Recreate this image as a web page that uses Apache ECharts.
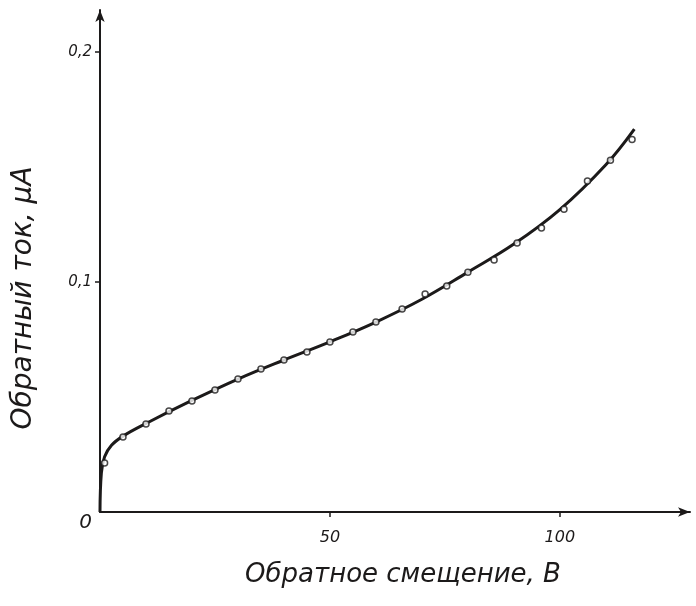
<!DOCTYPE html>
<html><head><meta charset="utf-8">
<script src="https://cdn.jsdelivr.net/npm/echarts@6/dist/echarts.min.js"></script>
<style>html,body{margin:0;padding:0;background:#fff}#c{width:696px;height:606px}</style>
</head><body><div id="c"></div>
<script>
// Measured points (open circles)
const pointX = [1, 5, 10, 15, 20, 25, 30, 35, 40, 45, 50, 55, 60, 65.7, 70.7, 75.4, 80, 85.7, 90.7, 96, 100.9, 106, 111, 115.7];
const pointY = [0.0213, 0.0326, 0.0383, 0.0439, 0.0483, 0.053, 0.0578, 0.0622, 0.0661, 0.0696, 0.0739, 0.0783, 0.0826, 0.0883, 0.0948, 0.0983, 0.1043, 0.1096, 0.117, 0.1235, 0.1317, 0.1439, 0.153, 0.162];
// Fitted curve
const curveX = [0, 0.3, 1, 2.5, 5, 10, 20, 30, 40, 50, 60, 70, 80, 90, 100, 110, 116.2];
const curveY = [0, 0.017, 0.024, 0.029, 0.033, 0.0385, 0.0485, 0.0578, 0.0661, 0.074, 0.0826, 0.0925, 0.1043, 0.1165, 0.1315, 0.151, 0.1665];
const xTicks = [0, 50, 100];
const yTicks = [0, 0.1, 0.2];
const xTickLabels = ['', '50', '100'];
const yTickLabels = ['0', '0,1', '0,2'];
const xTitle = 'Обратное смещение, В';
const yTitle = 'Обратный ток, μА';

const ink = '#1c1a1a';
const font = 'DejaVu Sans';
const chart = echarts.init(document.getElementById('c'));
chart.setOption({
  backgroundColor: '#fff',
  animation: false,
  grid: {left: 100, right: 6, top: 10, bottom: 94},
  xAxis: {
    type: 'value', min: 0, max: 128.3,
    axisLine: {show: true, lineStyle: {color: ink, width: 2}, symbol: ['none', 'arrow'], symbolSize: [7, 12]},
    axisTick: {show: true, customValues: [50, 100], length: 5, lineStyle: {color: ink, width: 1.5}},
    axisLabel: {customValues: xTicks, margin: 18, color: ink, fontSize: 16, fontStyle: 'italic', fontFamily: font,
      formatter: v => xTickLabels[xTicks.indexOf(v)] ?? ''},
    splitLine: {show: false},
    name: xTitle, nameLocation: 'middle', nameGap: 50,
    nameTextStyle: {color: ink, fontSize: 26, fontStyle: 'italic', fontFamily: font, padding: [0, 0, 0, 16]}
  },
  yAxis: {
    type: 'value', min: 0, max: 0.2183,
    axisLine: {show: true, lineStyle: {color: ink, width: 2}, symbol: ['none', 'arrow'], symbolSize: [7, 12]},
    axisTick: {show: true, customValues: [0.1, 0.2], length: 5, lineStyle: {color: ink, width: 1.5}},
    axisLabel: {customValues: yTicks, margin: 8, color: ink, fontSize: 15, fontStyle: 'italic', fontFamily: font,
      formatter: v => { const i = yTicks.indexOf(v); return i === 0 ? '{z|0}' : (yTickLabels[i] ?? ''); },
      rich: {z: {fontSize: 20, fontStyle: 'italic', fontFamily: font, color: ink, padding: [22, 0, 0, 0]}}},
    splitLine: {show: false},
    name: yTitle, nameLocation: 'middle', nameGap: 62,
    nameTextStyle: {color: ink, fontSize: 28, fontStyle: 'italic', fontFamily: font, padding: [0, 74, 0, 0]}
  },
  series: [
    {type: 'line', data: curveX.map((x, i) => [x, curveY[i]]), smooth: 0.4, showSymbol: false,
      lineStyle: {color: ink, width: 3}, z: 2},
    {type: 'scatter', data: pointX.map((x, i) => [x, pointY[i]]), symbol: 'circle', symbolSize: 6,
      itemStyle: {color: '#fff', borderColor: ink, borderWidth: 1.5}, z: 3}
  ]
});
</script></body></html>
